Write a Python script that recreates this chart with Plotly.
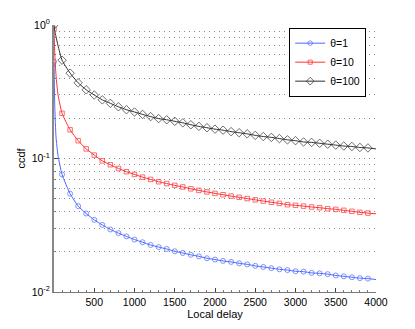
import plotly.graph_objects as go

# Local delay values (points near 0 are only on the line, markers every 100)
delay = [0, 10, 25, 50] + list(range(100, 4000, 100)) + [4000]

ccdf_theta1 = [0.53, 0.24, 0.145, 0.105,
               0.076, 0.0545, 0.044, 0.0387, 0.0347, 0.0318, 0.0294, 0.0276, 0.0261, 0.0247,
               0.0236, 0.0225, 0.0217, 0.021, 0.0202, 0.0196, 0.019, 0.0185, 0.0179, 0.0175,
               0.0171, 0.0168, 0.0164, 0.0161, 0.0157, 0.0154, 0.0151, 0.0148, 0.0146, 0.0143,
               0.0142, 0.0139, 0.0138, 0.0136, 0.0133, 0.0131, 0.0129, 0.0127, 0.0126,
               0.0124]

ccdf_theta10 = [0.93, 0.6, 0.42, 0.3,
                0.218, 0.164, 0.136, 0.118, 0.106, 0.096, 0.0898, 0.0842, 0.0796, 0.076,
                0.0725, 0.0697, 0.067, 0.0649, 0.0629, 0.0612, 0.0593, 0.0577, 0.0562, 0.0548,
                0.0535, 0.0523, 0.0512, 0.0501, 0.049, 0.048, 0.047, 0.0461, 0.0451, 0.0446,
                0.044, 0.0433, 0.0428, 0.0421, 0.0416, 0.0409, 0.0402, 0.0395, 0.039,
                0.0385]

ccdf_theta100 = [1.0, 0.9, 0.82, 0.7,
                 0.545, 0.436, 0.369, 0.327, 0.299, 0.275, 0.259, 0.244, 0.232, 0.223,
                 0.214, 0.206, 0.199, 0.195, 0.19, 0.185, 0.179, 0.174, 0.17, 0.166,
                 0.163, 0.159, 0.156, 0.153, 0.149, 0.146, 0.144, 0.141, 0.138, 0.136,
                 0.133, 0.132, 0.13, 0.128, 0.126, 0.124, 0.123, 0.121, 0.12, 0.118,
                 0.117]

x_ticks = [500, 1000, 1500, 2000, 2500, 3000, 3500, 4000]
y_ticks = [0.01, 0.1, 1]
y_labels = ['10<sup>-2</sup>', '10<sup>-1</sup>', '10<sup>0</sup>']

font = 'Liberation Sans, Arial, sans-serif'
grid_dash = '1px,4px'
grid_color = '#8a8a8a'


def marker_sizes(size):
    # markers only on multiples of 100 (and the start), not on the helper points
    return [size if (d % 100 == 0 and d < 4000) else 0 for d in delay]


fig = go.Figure()

series = [
    ('θ=1', ccdf_theta1, '#4a68ff', 'circle-open', 5),
    ('θ=10', ccdf_theta10, '#ff3030', 'square-open', 4.5),
    ('θ=100', ccdf_theta100, '#303030', 'diamond-open', 6.5),
]
for name, vals, color, symbol, size in series:
    fig.add_trace(go.Scatter(
        x=delay,
        y=vals,
        mode='lines+markers',
        name=name,
        line=dict(color=color, width=1, shape='spline', smoothing=0.5),
        marker=dict(symbol=symbol, size=marker_sizes(size), color=color,
                    line=dict(width=1, color=color))
    ))

# the page body adds an 8px offset at top/left, so the figure is 8px smaller
fig.update_layout(
    width=407,
    height=321,
    margin=dict(l=46, r=39, t=17, b=37),
    paper_bgcolor='white',
    plot_bgcolor='white',
    font=dict(family=font, size=11, color='black'),
    showlegend=True,
    legend=dict(
        x=0.85, y=0.99, xanchor='center', yanchor='top',
        bgcolor='white', bordercolor='black', borderwidth=1,
        font=dict(family=font, size=10.5),
        tracegroupgap=0
    ),
    xaxis=dict(
        range=[0, 4000],
        tickvals=x_ticks,
        tickfont=dict(size=10.5),
        ticks='inside', ticklen=4, tickcolor='#444',
        minor=dict(dtick=100, ticks='inside', ticklen=2, tickcolor='#777'),
        showline=True, linecolor='#777', linewidth=1,
        showgrid=False, zeroline=False, automargin=False,
        title=dict(text='Local delay', standoff=2, font=dict(size=11)),
    ),
    yaxis=dict(
        type='log',
        range=[-2, 0],
        tickvals=y_ticks,
        ticktext=y_labels,
        tickfont=dict(size=10.5),
        ticks='inside', ticklen=4, tickcolor='#444',
        minor=dict(dtick='D1', ticks='inside', ticklen=2, tickcolor='#777',
                   showgrid=True, gridcolor=grid_color, gridwidth=1, griddash=grid_dash),
        showline=True, linecolor='#888', linewidth=2,
        showgrid=True, gridcolor=grid_color, gridwidth=1, griddash=grid_dash,
        zeroline=False, automargin=False,
        title=dict(text='ccdf', standoff=4, font=dict(size=11)),
    ),
)

fig.write_html('out.html')
